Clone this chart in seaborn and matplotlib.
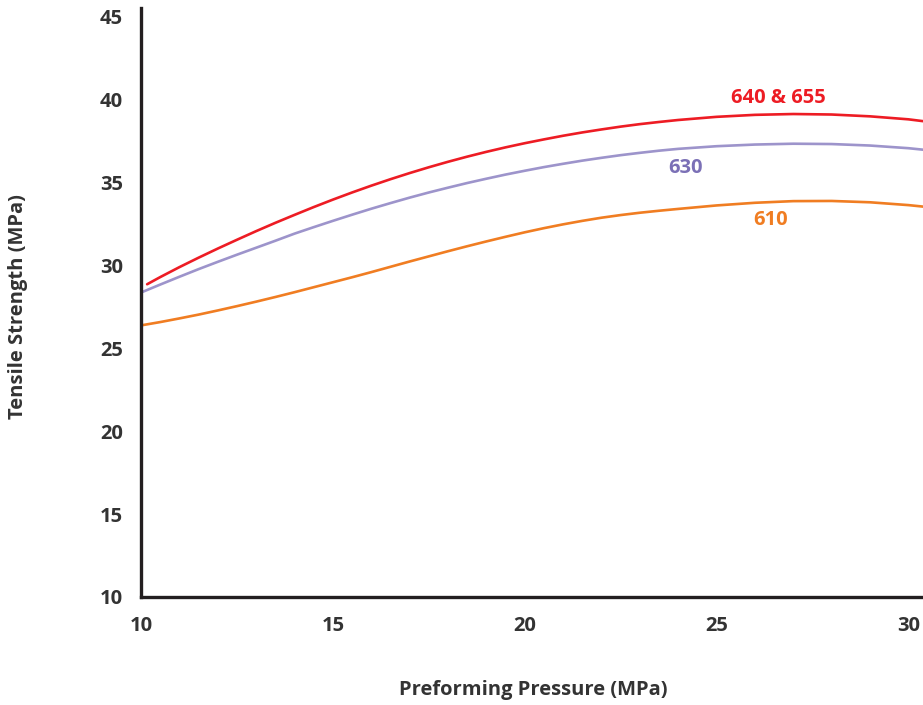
import numpy as np
import pandas as pd
import matplotlib
matplotlib.use("Agg")
import matplotlib.pyplot as plt
import seaborn as sns

# --- data (MPa) ---
pressure = [10.0, 10.5, 11, 11.5, 12, 12.5, 13, 13.5, 14, 14.5, 15, 15.5, 16, 16.5,
            17, 17.5, 18, 18.5, 19, 19.5, 20, 20.5, 21, 21.5, 22, 22.5, 23, 23.5,
            24, 25, 26, 27, 28, 29, 30, 30.38]
strength_610 = [26.37, 26.57, 26.79, 27.02, 27.27, 27.53, 27.80, 28.08, 28.37, 28.67,
                28.97, 29.27, 29.58, 29.90, 30.22, 30.53, 30.84, 31.14, 31.43, 31.71,
                31.98, 32.23, 32.46, 32.67, 32.86, 33.02, 33.16, 33.28,
                33.39, 33.60, 33.76, 33.86, 33.87, 33.79, 33.62, 33.53]
strength_630 = [28.35, 28.83, 29.30, 29.76, 30.20, 30.63, 31.05, 31.47, 31.90, 32.29,
                32.67, 33.04, 33.40, 33.74, 34.07, 34.38, 34.67, 34.95, 35.21, 35.46,
                35.69, 35.91, 36.11, 36.30, 36.47, 36.63, 36.77, 36.90,
                37.01, 37.17, 37.27, 37.32, 37.30, 37.21, 37.05, 36.96]
# the 640 & 655 curve starts slightly right of the axis
pressure_640 = [10.16] + pressure[1:]
strength_640 = [28.85, 29.28, 29.88, 30.45, 31.00, 31.53, 32.05, 32.55, 33.03, 33.50,
                33.95, 34.38, 34.79, 35.18, 35.55, 35.90, 36.23, 36.54, 36.83, 37.10,
                37.35, 37.58, 37.80, 38.00, 38.18, 38.35, 38.50, 38.63,
                38.75, 38.94, 39.06, 39.11, 39.08, 38.97, 38.79, 38.68]

series = ["610", "630", "640 & 655"]
colors = {"610": "#F07D22", "630": "#9D94CB", "640 & 655": "#ED1C24"}
text_colors = {"610": "#F07D22", "630": "#7B70B6", "640 & 655": "#ED1C24"}
label_pos = {"610": (26.4, 32.7), "630": (24.2, 35.85), "640 & 655": (26.6, 40.1)}

df = pd.concat([
    pd.DataFrame({"pressure": pressure, "strength": strength_610, "grade": "610"}),
    pd.DataFrame({"pressure": pressure, "strength": strength_630, "grade": "630"}),
    pd.DataFrame({"pressure": pressure_640, "strength": strength_640, "grade": "640 & 655"}),
])

sns.set_theme(style="white")
plt.rcParams["font.family"] = ["Open Sans", "DejaVu Sans"]
dark = "#333333"
fs = 14.5

fig = plt.figure(figsize=(9.23, 7.05), dpi=100)
ax = fig.add_axes([141 / 923, 1 - 597 / 705, 1 - 141 / 923, (597 - 8) / 705])

sns.lineplot(data=df, x="pressure", y="strength", hue="grade", hue_order=series,
             palette=colors, linewidth=1.9, legend=False, ax=ax, sort=False)

for g in series:
    x, y = label_pos[g]
    ax.text(x, y, g, color=text_colors[g], fontsize=fs, fontweight="bold",
            ha="center", va="center")

ax.set_xlim(10, 30.38)
ax.set_ylim(10, 45.5)
ax.set_xticks([10, 15, 20, 25, 30])
ax.set_yticks([10, 15, 20, 25, 30, 35, 40, 45])
ax.tick_params(length=0, labelsize=fs, labelcolor=dark)
ax.tick_params(axis="x", pad=14)
ax.tick_params(axis="y", pad=13)
for lab in ax.get_xticklabels() + ax.get_yticklabels():
    lab.set_fontweight("bold")

for side in ["top", "right"]:
    ax.spines[side].set_visible(False)
for side in ["left", "bottom"]:
    ax.spines[side].set_color("#231F20")
    ax.spines[side].set_linewidth(2.4)

ax.set_xlabel("Preforming Pressure (MPa)", fontsize=fs, fontweight="bold", color=dark)
ax.set_ylabel("Tensile Strength (MPa)", fontsize=fs, fontweight="bold", color=dark)
ax.xaxis.label.set_va("center")
ax.yaxis.label.set_va("center")
ax.xaxis.set_label_coords((533 - 141) / 782, (597 - 690) / 589)
ax.yaxis.set_label_coords((18 - 141) / 782, (597 - 307) / 589)

fig.savefig("out.png", dpi=100)
